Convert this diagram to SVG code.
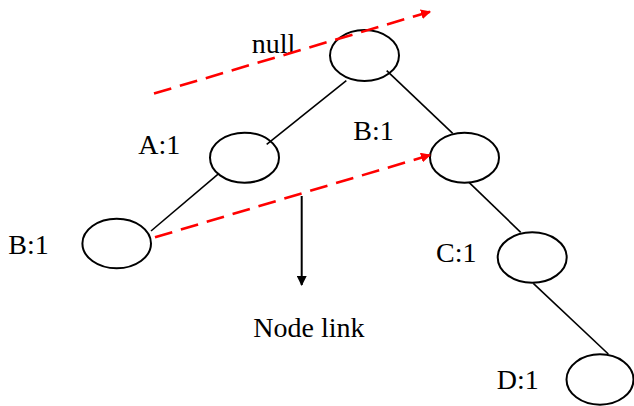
<svg xmlns="http://www.w3.org/2000/svg" width="634" height="406" viewBox="0 0 634 406">
<style>
.n{fill:none;stroke:#000;stroke-width:2}
.e{stroke:#000;stroke-width:1.6;fill:none}
.d{stroke:#ff0000;stroke-width:2.6;stroke-dasharray:18 9;fill:none}
text{font-family:"Liberation Serif","Times New Roman",serif;font-size:28px;fill:#000}
</style>
<defs>
<marker id="ra" markerWidth="10" markerHeight="10" refX="9" refY="5" orient="auto" markerUnits="userSpaceOnUse" viewBox="0 0 10 10">
<path d="M0,0 L10,5 L0,10 Z" fill="#ff0000"/>
</marker>
<marker id="ba" markerWidth="10" markerHeight="10" refX="9" refY="5" orient="auto" markerUnits="userSpaceOnUse" viewBox="0 0 10 10">
<path d="M0,0 L10,5 L0,10 Z" fill="#000"/>
</marker>
</defs>
<g id="root"><ellipse class="n" cx="364.5" cy="55.5" rx="34.5" ry="25.5"/><text x="251.7" y="53.3">null</text></g>
<g id="nodeA"><ellipse class="n" cx="244.5" cy="157.7" rx="34.5" ry="25"/><text x="138.3" y="154.3">A:1</text></g>
<g id="nodeB1"><ellipse class="n" cx="116.7" cy="243.5" rx="34.3" ry="24.8"/><text x="8.3" y="254">B:1</text></g>
<g id="nodeB2"><ellipse class="n" cx="464.5" cy="157.7" rx="34.5" ry="25"/><text x="353.3" y="140">B:1</text></g>
<g id="nodeC"><ellipse class="n" cx="532.2" cy="257.5" rx="34.5" ry="25.2"/><text x="436" y="261.7">C:1</text></g>
<g id="nodeD"><ellipse class="n" cx="600" cy="379.5" rx="33.5" ry="25.2"/><text x="496.7" y="389.3">D:1</text></g>
<g id="label"><text x="253.3" y="336.7">Node link</text></g>
<g id="connectors">
<line class="e" x1="346.3" y1="80.7" x2="266.7" y2="144.3"/>
<line class="e" x1="386.7" y1="70.7" x2="452.7" y2="133.3"/>
<line class="e" x1="219" y1="173.3" x2="151" y2="231"/>
<line class="e" x1="469" y1="182.3" x2="520.7" y2="232.3"/>
<line class="e" x1="533.3" y1="283.3" x2="608.3" y2="354"/>
<line class="d" x1="154" y1="93.5" x2="430" y2="11.7" marker-end="url(#ra)"/>
<line class="d" x1="155" y1="237.3" x2="430" y2="155" marker-end="url(#ra)"/>
<line x1="301.7" y1="196" x2="301.7" y2="285" stroke="#000" stroke-width="2" marker-end="url(#ba)"/>
</g>
</svg>
